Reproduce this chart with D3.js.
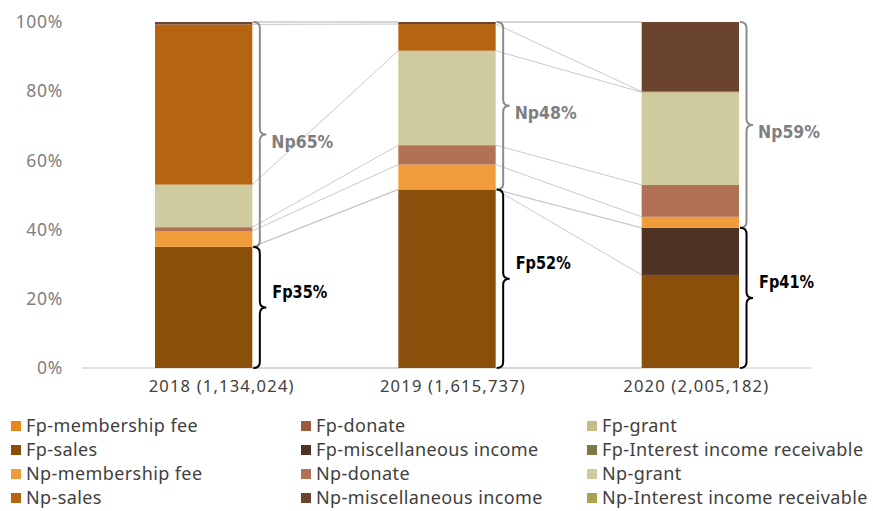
<!DOCTYPE html>
<html>
<head>
<meta charset="utf-8">
<script src="https://cdn.jsdelivr.net/npm/d3@7"></script>
<style>
  body { margin: 0; background: #fff; }
  svg { display: block; }
</style>
</head>
<body>
<svg id="chart" width="873" height="511"></svg>
<script>
// categories and series (percent of yearly total)
var categories = ["2018 (1,134,024)", "2019 (1,615,737)", "2020 (2,005,182)"];
var seriesNames = ["Fp-membership fee", "Fp-donate", "Fp-grant",
                   "Fp-sales", "Fp-miscellaneous income", "Fp-Interest income receivable",
                   "Np-membership fee", "Np-donate", "Np-grant",
                   "Np-sales", "Np-miscellaneous income", "Np-Interest income receivable"];
var fpMembership = [0, 0, 0];
var fpDonate     = [0, 0, 0];
var fpGrant      = [0, 0, 0];
var fpSales      = [35.0, 51.6, 26.9];
var fpMisc       = [0, 0, 13.6];
var fpInterest   = [0, 0, 0];
var npMembership = [4.6, 7.2, 3.2];
var npDonate     = [1.1, 5.6, 9.2];
var npGrant      = [12.3, 27.3, 26.8];
var npSales      = [46.3, 7.7, 0.2];
var npMisc       = [0.7, 0.6, 20.1];
var npInterest   = [0, 0, 0];
var fpLabels = ["Fp35%", "Fp52%", "Fp41%"];
var npLabels = ["Np65%", "Np48%", "Np59%"];
var yTicks = [0, 20, 40, 60, 80, 100];

var colors = ["#e8861a", "#9a5a3e", "#c4bd86",
              "#8a4f0b", "#4f3223", "#7e7842",
              "#f09c3a", "#b07155", "#cfcb9e",
              "#b5650f", "#6b4430", "#aaa24c"];

var allValues = [fpMembership, fpDonate, fpGrant, fpSales, fpMisc, fpInterest,
                 npMembership, npDonate, npGrant, npSales, npMisc, npInterest];

var table = categories.map(function(c, i) {
   var row = { cat: c };
   seriesNames.forEach(function(s, j) { row[s] = allValues[j][i]; });
   return row;
});

var svg = d3.select("#chart");
var font = "'Noto Sans', sans-serif";

var x = d3.scaleBand().domain(categories).range([82, 812]).paddingInner(0.6).paddingOuter(0.3);
var y = d3.scaleLinear().domain([0, 100]).range([368, 22]);

var stacked = d3.stack().keys(seriesNames)(table);

// series lines between bars
var links = svg.append("g");
stacked.forEach(function(layer) {
   for (var i = 0; i < categories.length - 1; i++) {
      links.append("line")
         .attr("x1", x(categories[i]) + x.bandwidth())
         .attr("y1", y(layer[i][1]))
         .attr("x2", x(categories[i + 1]))
         .attr("y2", y(layer[i + 1][1]))
         .attr("stroke", "#c9c9c9")
         .attr("stroke-width", 1);
   }
});

// axis line
svg.append("line")
   .attr("x1", 82).attr("x2", 812)
   .attr("y1", y(0)).attr("y2", y(0))
   .attr("stroke", "#d9d9d9").attr("stroke-width", 1.5);

// bars
svg.append("g").selectAll("g")
   .data(stacked)
   .enter().append("g")
   .attr("fill", function(d, i) { return colors[i]; })
   .selectAll("rect")
   .data(function(d) { return d; })
   .enter().append("rect")
   .attr("x", function(d) { return x(d.data.cat); })
   .attr("y", function(d) { return y(d[1]); })
   .attr("width", x.bandwidth())
   .attr("height", function(d) { return y(d[0]) - y(d[1]); });

// y axis labels
svg.append("g").selectAll("text")
   .data(yTicks)
   .enter().append("text")
   .attr("x", 63)
   .attr("y", function(d) { return y(d); })
   .attr("dy", "0.35em")
   .attr("text-anchor", "end")
   .attr("font-family", font)
   .attr("font-size", "17.5px")
   .attr("letter-spacing", "0.7px")
   .attr("fill", "#7f7f7f")
   .text(function(d) { return d + "%"; });

// x axis labels (first one sits a bit right of its bar, as in the original)
var xLabelShift = [18, 6, 6];
svg.append("g").selectAll("text")
   .data(categories)
   .enter().append("text")
   .attr("x", function(d, i) { return x(d) + x.bandwidth() / 2 + xLabelShift[i]; })
   .attr("y", 386)
   .attr("dy", "0.35em")
   .attr("text-anchor", "middle")
   .attr("font-family", font)
   .attr("font-size", "16.5px")
   .attr("letter-spacing", "1.2px")
   .attr("fill", "#404040")
   .text(function(d) { return d; });

// curly braces
function brace(x0, y0, y1, w) {
   var ym = (y0 + y1) / 2, r = 6, xm = x0 + w / 2;
   return "M" + x0 + "," + y0 +
      " Q" + xm + "," + y0 + " " + xm + "," + (y0 + r) +
      " L" + xm + "," + (ym - r) +
      " Q" + xm + "," + ym + " " + (x0 + w) + "," + ym +
      " Q" + xm + "," + ym + " " + xm + "," + (ym + r) +
      " L" + xm + "," + (y1 - r) +
      " Q" + xm + "," + y1 + " " + x0 + "," + y1;
}

var fpTop = table.map(function(d, i) {
   return fpMembership[i] + fpDonate[i] + fpGrant[i] + fpSales[i] + fpMisc[i] + fpInterest[i];
});

var braces = svg.append("g");
categories.forEach(function(c, i) {
   var bx = x(c) + x.bandwidth() + 1;
   braces.append("path")
      .attr("d", brace(bx, y(100), y(fpTop[i]), 13))
      .attr("fill", "none").attr("stroke", "#8c8c8c").attr("stroke-width", 2);
   braces.append("path")
      .attr("d", brace(bx, y(fpTop[i]), y(0), 13))
      .attr("fill", "none").attr("stroke", "#000").attr("stroke-width", 2);

   braces.append("text")
      .attr("x", bx + 18)
      .attr("y", (y(100) + y(fpTop[i])) / 2 + 7)
      .attr("dy", "0.35em")
      .attr("font-family", "'DejaVu Sans', sans-serif")
      .attr("font-weight", "bold")
      .attr("font-size", "18px")
      .attr("textLength", 62)
      .attr("lengthAdjust", "spacingAndGlyphs")
      .attr("fill", "#7f7f7f")
      .text(npLabels[i]);
   braces.append("text")
      .attr("x", bx + 19)
      .attr("y", (y(fpTop[i]) + y(0)) / 2 - 16)
      .attr("dy", "0.35em")
      .attr("font-family", "'DejaVu Sans', sans-serif")
      .attr("font-weight", "bold")
      .attr("font-size", "18px")
      .attr("textLength", 55)
      .attr("lengthAdjust", "spacingAndGlyphs")
      .attr("fill", "#000")
      .text(fpLabels[i]);
});

// legend, 3 columns x 4 rows
var legendX = [11, 301, 587];
var legendY = [426, 450, 474, 498];
var legend = svg.append("g").selectAll("g")
   .data(seriesNames)
   .enter().append("g")
   .attr("transform", function(d, i) {
      return "translate(" + legendX[i % 3] + "," + legendY[Math.floor(i / 3)] + ")";
   });
legend.append("rect")
   .attr("x", 0).attr("y", -5)
   .attr("width", 10).attr("height", 10)
   .attr("fill", function(d, i) { return colors[i]; });
legend.append("text")
   .attr("x", 15)
   .attr("y", 0)
   .attr("dy", "0.35em")
   .attr("font-family", font)
   .attr("font-size", "18px")
   .attr("letter-spacing", "0.4px")
   .attr("fill", "#404040")
   .text(function(d) { return d; });
</script>
</body>
</html>
